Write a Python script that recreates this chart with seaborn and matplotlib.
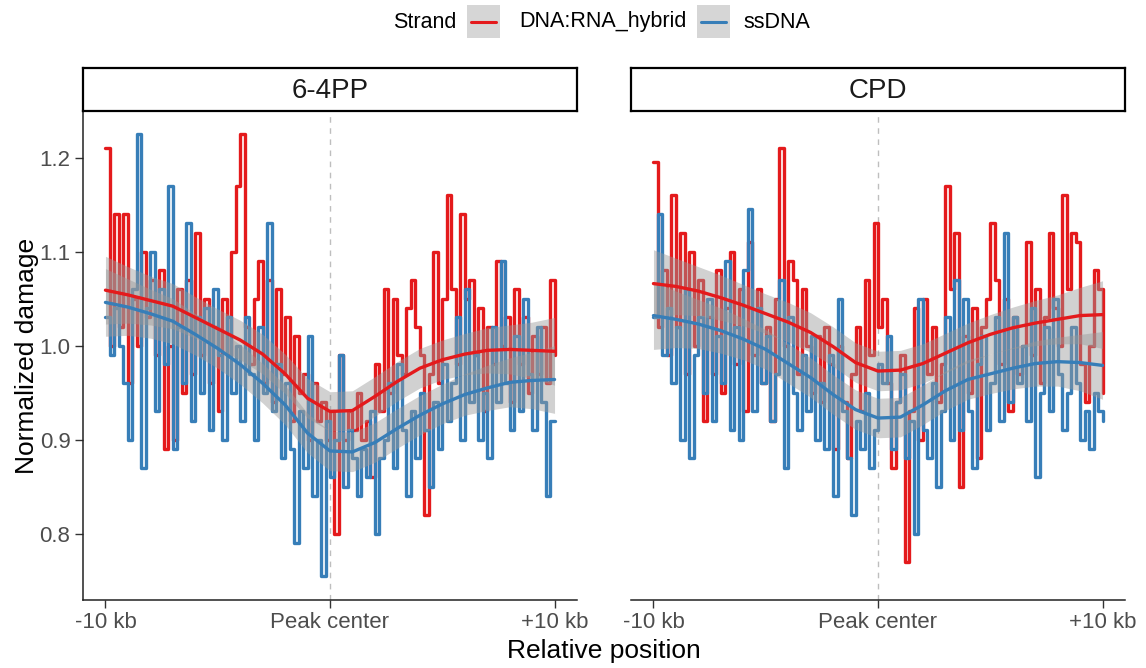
import numpy as np
import pandas as pd
import matplotlib
matplotlib.use("Agg")
import matplotlib.pyplot as plt
import seaborn as sns
from matplotlib.patches import Rectangle
from matplotlib.lines import Line2D

# ---------------- data ----------------
panels = ["6-4PP", "CPD"]
strands = ["DNA:RNA_hybrid", "ssDNA"]
strand_colors = {"DNA:RNA_hybrid": "#E41A1C", "ssDNA": "#377EB8"}

position_kb = np.round(np.arange(-10, 10.0001, 0.2), 1)   # 101 bins
smooth_kb = np.arange(-10, 11, 1)                           # 21 points

x_tick_pos = [-10, 0, 10]
x_tick_labels = ["-10 kb", "Peak center", "+10 kb"]
y_ticks = [0.8, 0.9, 1.0, 1.1, 1.2]
y_tick_labels = ["0.8", "0.9", "1.0", "1.1", "1.2"]

pp64_hybrid = [
    1.21, 1.00, 1.14, 1.02, 1.14, 0.96, 1.05, 1.00, 1.10, 1.03,
    1.07, 0.99, 1.08, 0.89, 1.00, 0.90, 1.06, 0.95, 1.07, 0.97,
    1.12, 0.99, 1.05, 0.96, 1.02, 0.93, 1.05, 0.99, 1.10, 1.17,
    1.225, 1.02, 0.98, 1.05, 1.09, 0.96, 1.07, 0.94, 1.06, 0.97,
    1.03, 0.92, 1.01, 0.95, 0.97, 0.90, 0.96, 0.92, 0.94, 0.90,
    0.93, 0.80, 0.99, 0.90, 0.93, 0.91, 0.95, 0.90, 0.92, 0.86,
    0.98, 0.93, 1.06, 0.95, 1.05, 0.99, 0.97, 1.04, 1.07, 1.02,
    0.99, 0.82, 0.97, 1.10, 0.96, 1.05, 1.16, 1.06, 0.98, 1.14,
    1.05, 1.07, 0.99, 1.04, 0.93, 1.02, 0.98, 1.09, 1.00, 1.03,
    0.94, 1.06, 0.98, 1.03, 0.95, 1.01, 0.97, 1.02, 0.96, 1.07,
    0.99,
]
pp64_ssdna = [
    1.03, 0.99, 1.04, 1.00, 0.96, 0.90, 1.06, 1.225, 0.87, 1.04,
    1.10, 0.93, 1.06, 0.98, 1.17, 0.89, 1.02, 0.96, 1.13, 0.92,
    1.03, 0.95, 1.04, 0.91, 1.06, 0.99, 0.90, 1.03, 0.95, 1.00,
    0.92, 1.03, 0.97, 0.90, 1.02, 0.95, 1.13, 0.93, 0.98, 0.88,
    0.96, 0.89, 0.79, 0.93, 0.87, 1.01, 0.84, 0.90, 0.755, 0.92,
    0.86, 0.90, 0.99, 0.85, 0.91, 0.88, 0.84, 0.89, 0.86, 0.93,
    0.80, 0.88, 0.90, 0.96, 0.87, 0.98, 0.91, 0.84, 0.93, 0.88,
    0.95, 0.91, 0.85, 0.94, 0.89, 0.98, 0.92, 0.96, 1.03, 0.90,
    1.06, 0.94, 0.99, 0.90, 0.95, 0.88, 1.02, 0.94, 1.09, 0.96,
    0.91, 1.01, 0.93, 1.05, 0.97, 0.91, 1.02, 0.94, 0.84, 0.92,
    0.92,
]
cpd_hybrid = [
    1.195, 1.02, 1.08, 0.99, 1.16, 1.02, 1.12, 0.97, 1.10, 1.00,
    1.07, 0.92, 1.03, 0.97, 1.08, 0.95, 1.04, 1.10, 0.98, 1.06,
    0.93, 1.11, 0.99, 1.06, 0.96, 1.02, 0.92, 1.05, 1.21, 1.00,
    1.09, 1.07, 0.97, 1.06, 1.00, 0.95, 1.01, 0.94, 1.02, 0.98,
    0.89, 1.00, 0.94, 0.88, 0.97, 1.02, 0.93, 1.07, 0.99, 1.13,
    1.02, 1.05, 0.96, 0.87, 0.94, 0.99, 0.77, 0.93, 1.04, 0.90,
    1.05, 0.97, 1.02, 0.94, 0.98, 1.17, 1.06, 1.12, 0.85, 1.01,
    0.95, 1.04, 0.88, 1.02, 1.05, 1.13, 1.07, 0.98, 1.05, 0.93,
    1.03, 0.97, 1.00, 1.11, 0.99, 1.06, 0.96, 1.03, 1.12, 1.04,
    1.00, 1.16, 1.06, 1.12, 1.11, 0.98, 0.94, 1.00, 1.08, 1.06,
    0.95,
]
cpd_ssdna = [
    1.03, 1.14, 0.99, 1.04, 0.96, 1.02, 0.90, 1.06, 0.88, 0.99,
    1.03, 0.95, 1.05, 0.92, 1.01, 0.96, 1.09, 0.91, 1.02, 0.90,
    1.08, 1.145, 0.93, 1.04, 0.96, 1.01, 0.92, 0.97, 1.07, 0.87,
    1.03, 0.95, 0.91, 0.99, 0.93, 1.01, 0.90, 0.96, 0.89, 0.99,
    0.84, 1.05, 0.93, 0.88, 0.82, 0.92, 0.89, 0.95, 0.87, 0.91,
    0.98, 0.96, 1.01, 0.89, 0.94, 0.97, 0.88, 0.92, 0.80, 1.05,
    0.91, 0.88, 0.96, 0.85, 0.93, 1.03, 0.90, 1.07, 0.91, 1.05,
    0.93, 0.87, 0.98, 1.01, 0.91, 0.96, 1.03, 0.92, 1.12, 0.94,
    1.03, 0.96, 1.00, 0.92, 1.04, 0.86, 0.95, 1.02, 0.93, 1.05,
    0.97, 0.91, 0.95, 1.02, 0.96, 0.90, 0.93, 0.89, 0.95, 0.93,
    0.92,
]

# smoothed trend at integer kb positions
pp64_hybrid_smooth = [1.059, 1.054, 1.048, 1.042, 1.030, 1.018, 1.006, 0.991, 0.970, 0.944,
                      0.930, 0.931, 0.946, 0.962, 0.976, 0.985, 0.991, 0.995, 0.996, 0.995, 0.994]
pp64_ssdna_smooth = [1.046, 1.041, 1.034, 1.026, 1.012, 0.997, 0.980, 0.960, 0.937, 0.907,
                     0.888, 0.887, 0.897, 0.912, 0.926, 0.938, 0.948, 0.955, 0.961, 0.963, 0.964]
cpd_hybrid_smooth = [1.066, 1.063, 1.058, 1.051, 1.043, 1.034, 1.025, 1.014, 0.999, 0.982,
                     0.973, 0.974, 0.981, 0.992, 1.003, 1.012, 1.019, 1.024, 1.028, 1.032, 1.033]
cpd_ssdna_smooth = [1.032, 1.028, 1.023, 1.016, 1.007, 0.996, 0.981, 0.966, 0.948, 0.932,
                    0.923, 0.924, 0.937, 0.952, 0.964, 0.970, 0.976, 0.981, 0.983, 0.982, 0.979]
smooth_ci_half = [0.036, 0.030, 0.026, 0.024, 0.022, 0.021, 0.021, 0.021, 0.021, 0.021,
                  0.021, 0.021, 0.021, 0.021, 0.021, 0.021, 0.022, 0.024, 0.026, 0.030, 0.036]

raw = {("6-4PP", "DNA:RNA_hybrid"): pp64_hybrid, ("6-4PP", "ssDNA"): pp64_ssdna,
       ("CPD", "DNA:RNA_hybrid"): cpd_hybrid, ("CPD", "ssDNA"): cpd_ssdna}
smooth = {("6-4PP", "DNA:RNA_hybrid"): pp64_hybrid_smooth, ("6-4PP", "ssDNA"): pp64_ssdna_smooth,
          ("CPD", "DNA:RNA_hybrid"): cpd_hybrid_smooth, ("CPD", "ssDNA"): cpd_ssdna_smooth}

raw_df = pd.concat([pd.DataFrame({"panel": p, "strand": s, "position": position_kb, "damage": v})
                    for (p, s), v in raw.items()], ignore_index=True)
smooth_df = pd.concat([pd.DataFrame({"panel": p, "strand": s, "position": smooth_kb, "damage": v,
                                     "lo": np.array(v) - np.array(smooth_ci_half),
                                     "hi": np.array(v) + np.array(smooth_ci_half)})
                       for (p, s), v in smooth.items()], ignore_index=True)

# ---------------- style ----------------
sns.set_theme(style="white")
plt.rcParams["font.family"] = ["Liberation Sans", "DejaVu Sans"]

W, H = 1146, 668
fig = plt.figure(figsize=(W / 100, H / 100), dpi=100)

def fx(x):
    return x / W

def fy(y):
    return 1 - y / H

panel_left = [83, 631]
panel_w = 494
panel_top, panel_bottom = 112, 600

for k, p in enumerate(panels):
    ax = fig.add_axes([fx(panel_left[k]), fy(panel_bottom), panel_w / W, (panel_bottom - panel_top) / H])
    ax.axvline(0, color="#BEBEBE", lw=1.0, ls=(0, (4, 4)), zorder=1)
    sub = raw_df[raw_df.panel == p]
    sns.lineplot(data=sub, x="position", y="damage", hue="strand", hue_order=strands,
                 palette=strand_colors, estimator=None, drawstyle="steps-post",
                 linewidth=2.4, legend=False, ax=ax, zorder=2)
    ssub = smooth_df[smooth_df.panel == p]
    for s in strands:
        d = ssub[ssub.strand == s]
        ax.fill_between(d["position"], d["lo"], d["hi"], color="#999999", alpha=0.45, lw=0, zorder=3)
    sns.lineplot(data=ssub, x="position", y="damage", hue="strand", hue_order=strands,
                 palette=strand_colors, estimator=None, linewidth=2.4, legend=False, ax=ax, zorder=4)

    ax.set_xlim(-11, 11)
    ax.set_ylim(0.7295, 1.2485)
    ax.set_xticks(x_tick_pos)
    ax.set_xticklabels(x_tick_labels)
    ax.set_xlabel("")
    ax.set_ylabel("")
    for sp in ["top", "right"]:
        ax.spines[sp].set_visible(False)
    ax.spines["bottom"].set_color("#222222")
    ax.spines["bottom"].set_linewidth(1.1)
    ax.tick_params(axis="x", length=6, width=1.0, color="#333333", labelsize=16,
                   labelcolor="#4D4D4D", pad=3, bottom=True)
    if k == 0:
        ax.set_yticks(y_ticks)
        ax.set_yticklabels(y_tick_labels)
        ax.spines["left"].set_color("#222222")
        ax.spines["left"].set_linewidth(1.1)
        ax.tick_params(axis="y", length=6, width=1.0, color="#333333", labelsize=16,
                       labelcolor="#4D4D4D", pad=3, left=True)
    else:
        ax.set_yticks(y_ticks)
        ax.spines["left"].set_visible(False)
        ax.tick_params(axis="y", left=False, labelleft=False)
    ax.set_facecolor("white")

    # facet strip
    sax = fig.add_axes([fx(panel_left[k]), fy(111), panel_w / W, 43 / H])
    sax.set_xticks([])
    sax.set_yticks([])
    sax.set_facecolor("white")
    for sp in sax.spines.values():
        sp.set_visible(True)
        sp.set_color("black")
        sp.set_linewidth(1.6)
    sax.text(0.5, 0.47, p, ha="center", va="center", fontsize=20, color="#1A1A1A",
             transform=sax.transAxes)

# axis titles
fig.text(fx(604), fy(651), "Relative position", ha="center", va="center", fontsize=19, color="black")
fig.text(fx(27), fy(356), "Normalized damage", ha="center", va="center", rotation=90,
         fontsize=19, color="black")

# legend (top)
fig.text(fx(393), fy(22), "Strand", ha="left", va="center", fontsize=15.5, color="black")
for x0, s, tx in [(467, "DNA:RNA_hybrid", 519), (697, "ssDNA", 743)]:
    fig.add_artist(Rectangle((fx(x0), fy(38)), 33 / W, 33 / H, transform=fig.transFigure,
                             facecolor="#D6D6D6", edgecolor="none"))
    fig.add_artist(Line2D([fx(x0 + 4), fx(x0 + 29)], [fy(21.5), fy(21.5)], transform=fig.transFigure,
                          color=strand_colors[s], lw=2.2))
    fig.text(fx(tx), fy(22), s, ha="left", va="center", fontsize=15.5, color="black")

fig.savefig("out.png", dpi=100, facecolor="white")
